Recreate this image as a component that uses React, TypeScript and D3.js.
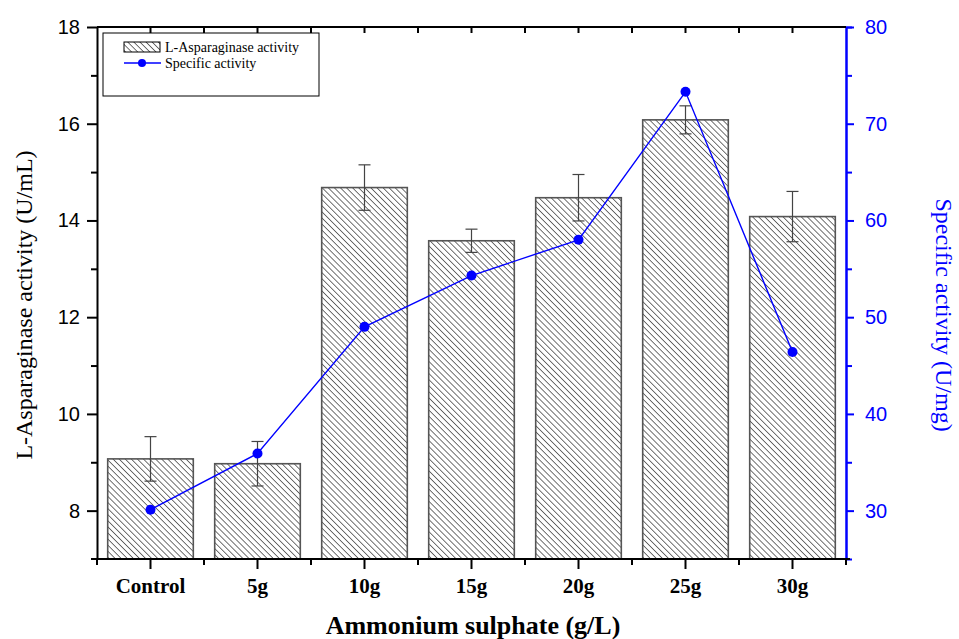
import React, { useEffect, useRef } from 'react';
import * as d3 from 'd3';

const categories = ['Control', '5g', '10g', '15g', '20g', '25g', '30g'];
const enzymeActivity = [9.07, 8.97, 14.68, 13.58, 14.47, 16.08, 14.08];
const enzymeError = [0.46, 0.46, 0.47, 0.24, 0.48, 0.29, 0.52];
const specificActivity = [30.1, 35.9, 49.0, 54.3, 58.0, 73.3, 46.4];
const leftTicks = [8, 10, 12, 14, 16, 18];
const leftMinor = [9, 11, 13, 15, 17];
const rightTicks = [30, 40, 50, 60, 70, 80];
const rightMinor = [35, 45, 55, 65, 75];

const W = 959;
const H = 639;
const margin = { left: 97, right: 113, top: 27, bottom: 80 };
const SERIF = 'Liberation Serif, Times New Roman, serif';
const SANS = 'Liberation Sans, Arial, sans-serif';

const App = () => {
  const svgRef = useRef<SVGSVGElement>(null);

  useEffect(() => {
    const svg = d3.select(svgRef.current);
    svg.selectAll('*').remove();
    const x0 = margin.left;
    const x1 = W - margin.right;
    const y0 = H - margin.bottom;
    const y1 = margin.top;

    const x = d3.scaleBand().domain(categories).range([x0, x1]).paddingInner(0.2).paddingOuter(0.1);
    const xBand = d3.scaleBand().domain(categories).range([x0, x1]);
    const yL = d3.scaleLinear().domain([7, 18]).range([y0, y1]);
    const yR = d3.scaleLinear().domain([25, 80]).range([y0, y1]);

    const defs = svg.append('defs');
    const pat = defs.append('pattern')
      .attr('id', 'hatch')
      .attr('patternUnits', 'userSpaceOnUse')
      .attr('width', 4.3)
      .attr('height', 4.3)
      .attr('patternTransform', 'rotate(-45)');
    pat.append('rect').attr('width', 4.3).attr('height', 4.3).attr('fill', '#fff');
    pat.append('line')
      .attr('x1', 0).attr('y1', 0).attr('x2', 0).attr('y2', 4.3)
      .attr('stroke', '#000').attr('stroke-width', 1.1);

    // bars
    svg.append('g').selectAll('rect')
      .data(categories)
      .enter()
      .append('rect')
      .attr('x', d => x(d)!)
      .attr('width', x.bandwidth())
      .attr('y', (d, i) => yL(enzymeActivity[i]))
      .attr('height', (d, i) => y0 - yL(enzymeActivity[i]))
      .attr('fill', 'url(#hatch)')
      .attr('stroke', '#555')
      .attr('stroke-width', 1.6);

    // error bars
    const eb = svg.append('g').attr('stroke', '#444').attr('stroke-width', 1.2);
    categories.forEach((c, i) => {
      const cx = xBand(c)! + xBand.bandwidth() / 2;
      const top = yL(enzymeActivity[i] + enzymeError[i]);
      const bot = yL(enzymeActivity[i] - enzymeError[i]);
      eb.append('line').attr('x1', cx).attr('x2', cx).attr('y1', top).attr('y2', bot);
      eb.append('line').attr('x1', cx - 6).attr('x2', cx + 6).attr('y1', top).attr('y2', top);
      eb.append('line').attr('x1', cx - 6).attr('x2', cx + 6).attr('y1', bot).attr('y2', bot);
    });

    // specific activity line
    const pts = categories.map((c, i) => [xBand(c)! + xBand.bandwidth() / 2, yR(specificActivity[i])] as [number, number]);
    svg.append('path')
      .attr('d', d3.line()(pts))
      .attr('fill', 'none')
      .attr('stroke', '#0000ff')
      .attr('stroke-width', 1.4);
    svg.append('g').selectAll('circle')
      .data(pts)
      .enter()
      .append('circle')
      .attr('cx', d => d[0])
      .attr('cy', d => d[1])
      .attr('r', 5)
      .attr('fill', '#0000ff');

    // left axis
    const left = svg.append('g').attr('transform', `translate(${x0},0)`);
    left.call(d3.axisLeft(yL).tickValues(leftTicks).tickSize(10).tickSizeOuter(0).tickPadding(7));
    left.append('g').call(d3.axisLeft(yL).tickValues(leftMinor).tickSize(6).tickFormat(() => ''));
    left.selectAll('path,line').attr('stroke', '#000').attr('stroke-width', 2);
    left.selectAll('g g path').remove();
    left.selectAll('text')
      .attr('font-family', SANS)
      .attr('font-size', 20)
      .attr('fill', '#000');

    // right axis
    const right = svg.append('g').attr('transform', `translate(${x1},0)`);
    right.call(d3.axisRight(yR).tickValues(rightTicks).tickSize(8).tickSizeOuter(0).tickPadding(11));
    right.append('g').call(d3.axisRight(yR).tickValues(rightMinor).tickSize(6).tickFormat(() => ''));
    right.selectAll('path,line').attr('stroke', '#0000ff').attr('stroke-width', 2);
    right.selectAll('text')
      .attr('font-family', SANS)
      .attr('font-size', 20)
      .attr('fill', '#0000ff');

    // bottom axis
    const bounds = d3.range(categories.length + 1).map(i => x0 + i * xBand.step());
    const bottom = svg.append('g').attr('transform', `translate(0,${y0})`);
    bottom.call(d3.axisBottom(xBand).tickSize(10).tickSizeOuter(0).tickPadding(9));
    bottom.selectAll('.minor').data(bounds).enter().append('line')
      .attr('class', 'minor')
      .attr('x1', d => d).attr('x2', d => d).attr('y1', 0).attr('y2', 6);
    bottom.selectAll('path,line').attr('stroke', '#000').attr('stroke-width', 2);
    bottom.select('path').attr('d', `M${x0 - 6},0H${x1 + 4}`);
    bottom.selectAll('text')
      .attr('font-family', SERIF)
      .attr('font-weight', 'bold')
      .attr('font-size', 21)
      .attr('fill', '#000');

    // top axis (ticks inward)
    const topAx = svg.append('g').attr('transform', `translate(0,${y1})`);
    topAx.call(d3.axisBottom(xBand).tickSize(6).tickSizeOuter(0).tickFormat(() => ''));
    topAx.selectAll('.minor').data(bounds.slice(1, -1)).enter().append('line')
      .attr('class', 'minor')
      .attr('x1', d => d).attr('x2', d => d).attr('y1', 0).attr('y2', 6);
    topAx.selectAll('path,line').attr('stroke', '#000').attr('stroke-width', 2);
    topAx.select('path').attr('d', `M${x0},0H${x1}`);

    // axis titles
    svg.append('text')
      .attr('transform', `translate(32,305) rotate(-90)`)
      .attr('text-anchor', 'middle')
      .attr('font-family', SERIF)
      .attr('font-size', 24)
      .text('L-Asparaginase activity (U/mL)');
    svg.append('text')
      .attr('transform', `translate(936,315) rotate(90)`)
      .attr('text-anchor', 'middle')
      .attr('font-family', SERIF)
      .attr('font-size', 24)
      .attr('fill', '#0000ff')
      .text('Specific activity (U/mg)');
    svg.append('text')
      .attr('x', 473)
      .attr('y', 634)
      .attr('text-anchor', 'middle')
      .attr('font-family', SERIF)
      .attr('font-weight', 'bold')
      .attr('font-size', 26)
      .text('Ammonium sulphate (g/L)');

    // legend
    const lg = svg.append('g');
    lg.append('rect').attr('x', 103).attr('y', 33).attr('width', 216).attr('height', 63)
      .attr('fill', '#fff').attr('stroke', '#000').attr('stroke-width', 1);
    lg.append('rect').attr('x', 124).attr('y', 42).attr('width', 36).attr('height', 10)
      .attr('fill', 'url(#hatch)').attr('stroke', '#000').attr('stroke-width', 1);
    lg.append('text').attr('x', 165).attr('y', 52)
      .attr('font-family', SERIF).attr('font-size', 14)
      .text('L-Asparaginase activity');
    lg.append('line').attr('x1', 124).attr('x2', 161).attr('y1', 63).attr('y2', 63)
      .attr('stroke', '#0000ff').attr('stroke-width', 1.4);
    lg.append('circle').attr('cx', 142).attr('cy', 63).attr('r', 4).attr('fill', '#0000ff');
    lg.append('text').attr('x', 165).attr('y', 68)
      .attr('font-family', SERIF).attr('font-size', 14)
      .text('Specific activity');
  }, []);

  return (
    <div style={{ position: 'absolute', left: 0, top: 0 }}>
      <svg ref={svgRef} width={W} height={H} style={{ display: 'block', background: '#fff' }} />
    </div>
  );
};

export default App;
